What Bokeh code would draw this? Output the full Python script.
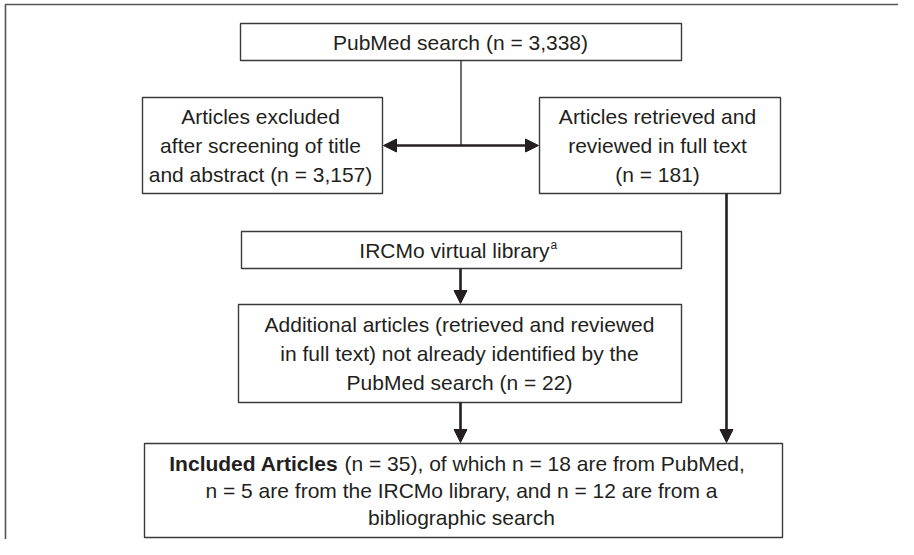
from bokeh.plotting import figure
from bokeh.models import Range1d, Arrow, NormalHead, ColumnDataSource
from bokeh.core.properties import value
from bokeh.embed import file_html
from bokeh.resources import INLINE

# ---- data (counts from the flow diagram) ----
pubmed_total = 3338
excluded_n = 3157
retrieved_n = 181
additional_n = 22
included_n = 35
included_sources = ["PubMed", "IRCMo library", "bibliographic search"]
included_counts = [18, 5, 12]
library_name = "IRCMo virtual library"

# ---- labels built from the data ----
lbl_pubmed = f"PubMed search (n = {pubmed_total:,})"
lbl_excluded = f"Articles excluded\nafter screening of title\nand abstract (n = {excluded_n:,})"
lbl_retrieved = f"Articles retrieved and\nreviewed in full text\n(n = {retrieved_n})"
lbl_additional = ("Additional articles (retrieved and reviewed\n"
                  "in full text) not already identified by the\n"
                  f"PubMed search (n = {additional_n})")
lbl_incl_bold = "Included Articles"
lbl_incl_1 = f"(n = {included_n}), of which n = {included_counts[0]} are from {included_sources[0]},"
lbl_incl_2 = (f"n = {included_counts[1]} are from the {included_sources[1]}, and "
              f"n = {included_counts[2]} are from a")
lbl_incl_3 = "bibliographic search"

# ---- layout (picture pixel coordinates) ----
W, H = 898, 539
p = figure(width=W, height=H, x_range=Range1d(0, W), y_range=Range1d(H, 0),
           output_backend="svg", toolbar_location=None, min_border=0)
p.axis.visible = False
p.grid.visible = False
p.outline_line_color = None
p.background_fill_color = "white"

INK = "#231f20"
BOX = "#3a3a3a"
FONT = value("Liberation Sans")

# outer frame (right/bottom edges fall outside the picture)
p.quad(left=[5], right=[990], top=[4], bottom=[640], fill_color=None,
       line_color="#555555", line_width=1.6)

boxes = ColumnDataSource(dict(
    left=[240, 142, 539, 241, 238, 144],
    right=[681, 382, 780, 681, 681, 782],
    top=[23, 97, 97, 231, 304, 443],
    bottom=[60, 193, 193, 268, 402, 537],
))
p.quad(left="left", right="right", top="top", bottom="bottom", source=boxes,
       fill_color="white", line_color=BOX, line_width=1.4)

# connectors
p.segment(x0=[460.5], y0=[60], x1=[460.5], y1=[145], line_color=INK, line_width=1.3)

def arrow(x0, y0, x1, y1, both=False):
    head = lambda: NormalHead(size=13, fill_color=INK, line_color=INK, line_width=1)
    a = Arrow(x_start=x0, y_start=y0, x_end=x1, y_end=y1, end=head(),
              start=head() if both else None, line_color=INK, line_width=2.6)
    p.add_layout(a)

arrow(383, 145, 538, 145, both=True)
arrow(460, 268, 460, 303)
arrow(460, 402, 460, 442)
arrow(726, 193, 726, 442)

common = dict(text_font=FONT, text_font_size="21px", text_color=INK,
              text_line_height=1.27, text_baseline="middle")

texts = ColumnDataSource(dict(
    x=[460, 260, 657, 459],
    y=[41.5, 145, 145, 353],
    t=[lbl_pubmed, lbl_excluded, lbl_retrieved, lbl_additional],
))
p.text(x="x", y="y", text="t", source=texts, text_align="center", **common)

# IRCMo box with superscript
p.text(x=[549], y=[249.5], text=[library_name], text_align="right", **common)
p.text(x=[550], y=[244], text=["a"], text_align="left", text_font=FONT,
       text_font_size="12px", text_color=INK, text_baseline="middle")

# Included box: bold lead-in, then regular text
p.text(x=[338], y=[463], text=[lbl_incl_bold], text_align="right",
       text_font_style="bold", **common)
p.text(x=[344], y=[463], text=[lbl_incl_1], text_align="left", **common)
p.text(x=[461, 461], y=[490, 517], text=[lbl_incl_2, lbl_incl_3],
       text_align="center", **common)

open("out.html", "w").write(file_html(p, INLINE))
